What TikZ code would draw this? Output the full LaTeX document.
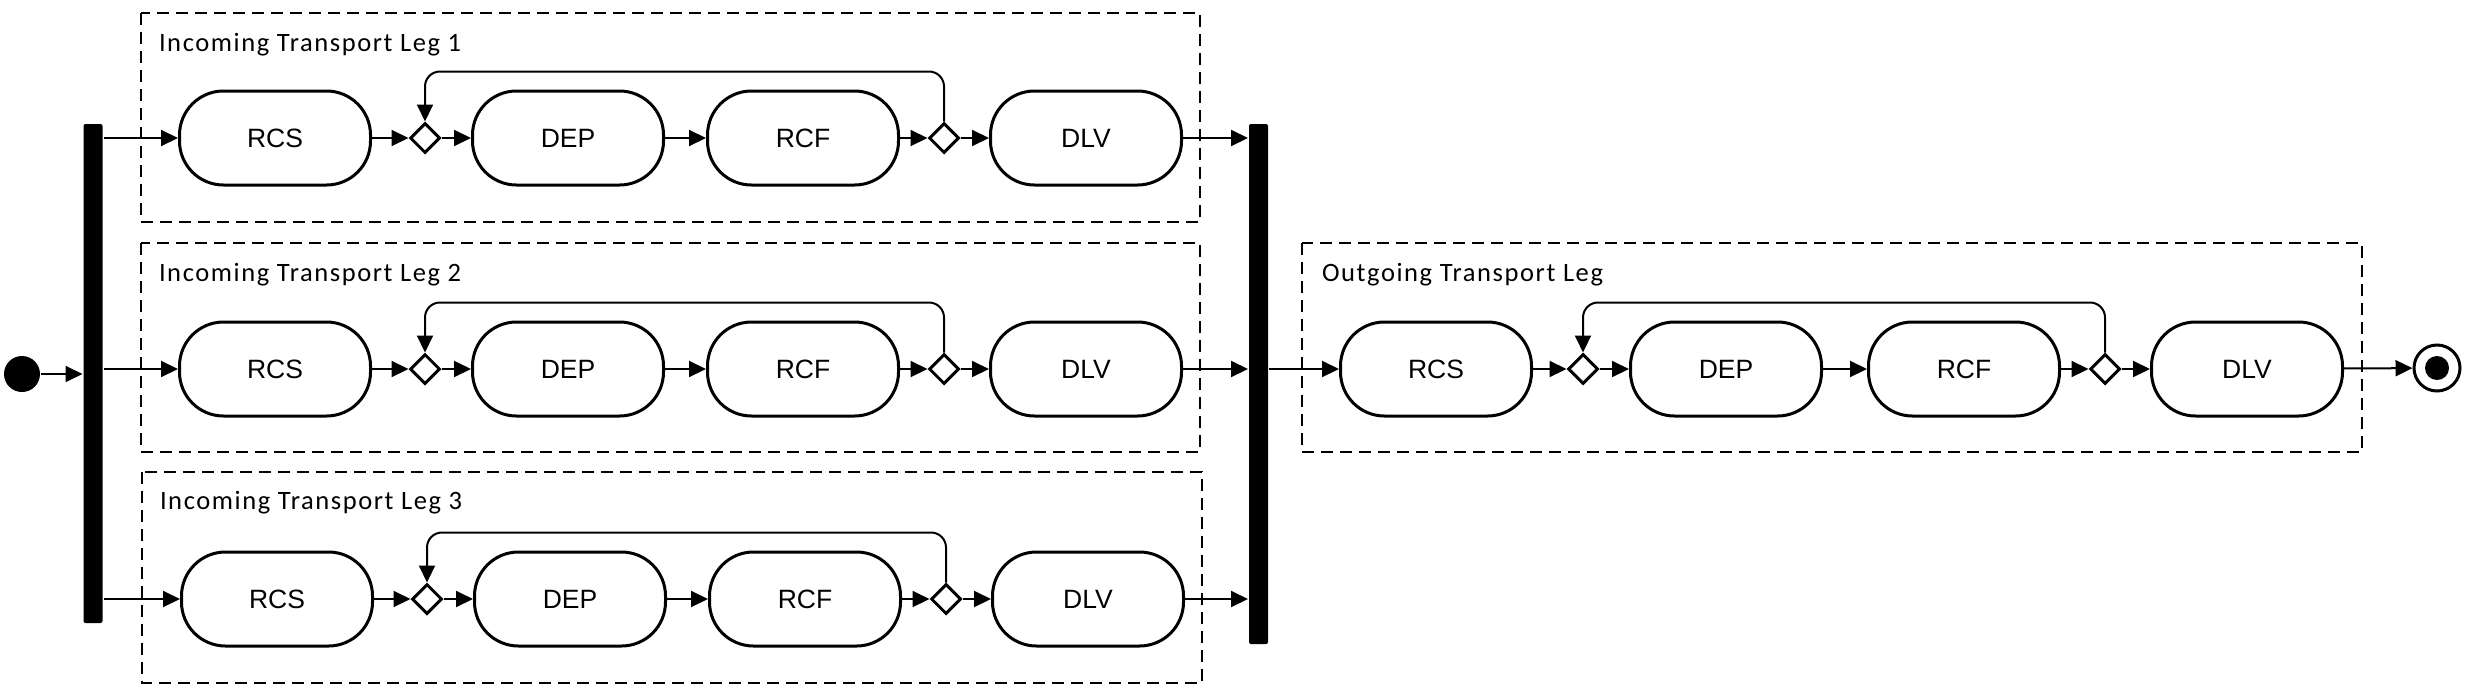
\documentclass[tikz,border=0pt]{standalone}
\usepackage{fontspec}
\setmainfont{Liberation Sans}
\newfontfamily\legfont[LetterSpace=6]{Carlito}
\usetikzlibrary{shapes.geometric,arrows.meta}

\begin{document}
\begin{tikzpicture}[x=1pt,y=-1pt,line width=2pt,>={Triangle[length=17pt,width=16pt]},
    anode/.style={draw,rectangle,rounded corners=44pt,line width=3pt,minimum width=191pt,minimum height=94pt,inner sep=0pt,font=\fontsize{26.5}{31}\selectfont},
    dnode/.style={draw,diamond,line width=3pt,minimum size=30pt,inner sep=0pt},
    bnode/.style={fill,rectangle,rounded corners=2pt,inner sep=0pt,minimum width=19pt},
    legbox/.style={draw,dash pattern=on 12pt off 7pt,line width=2.3pt},
    tnode/.style={anchor=base west,inner sep=0pt,font=\legfont\fontsize{26.5}{31}\selectfont}]
    \useasboundingbox (0,0) rectangle (2468,694);

    % swimlane boxes
    \draw[legbox] (141,13) rectangle (1200,222);
    \node[tnode] (t1) at (158,51) {Incoming Transport Leg 1};
    \draw[legbox] (141,243) rectangle (1200,452);
    \node[tnode] (t2) at (158,281) {Incoming Transport Leg 2};
    \draw[legbox] (142,472) rectangle (1202,683);
    \node[tnode] (t3) at (159,509) {Incoming Transport Leg 3};
    \draw[legbox] (1302,243) rectangle (2362,452);
    \node[tnode] (t4) at (1321,281) {Outgoing Transport Leg};

    \node[fill,circle,minimum size=36pt,inner sep=0pt] (ini) at (22,374) {};
    \node[bnode,minimum height=499pt] (fork) at (93,373.5) {};
    \node[bnode,minimum height=520pt] (join) at (1258.5,384) {};
    \node[draw,circle,line width=3pt,minimum size=46pt,inner sep=0pt,
          path picture={\fill (path picture bounding box.center) circle (12pt);}] (fin) at (2437,368) {};

    \node[anode] (rcs1) at (275,138) {RCS};
    \node[dnode] (mg1) at (425,138) {};
    \node[anode] (dep1) at (568,138) {DEP};
    \node[anode] (rcf1) at (803,138) {RCF};
    \node[dnode] (dc1) at (944,138) {};
    \node[anode] (dlv1) at (1086,138) {DLV};

    \node[anode] (rcs2) at (275,369) {RCS};
    \node[dnode] (mg2) at (425,369) {};
    \node[anode] (dep2) at (568,369) {DEP};
    \node[anode] (rcf2) at (803,369) {RCF};
    \node[dnode] (dc2) at (944,369) {};
    \node[anode] (dlv2) at (1086,369) {DLV};

    \node[anode] (rcs3) at (277,599) {RCS};
    \node[dnode] (mg3) at (427,599) {};
    \node[anode] (dep3) at (570,599) {DEP};
    \node[anode] (rcf3) at (805,599) {RCF};
    \node[dnode] (dc3) at (946,599) {};
    \node[anode] (dlv3) at (1088,599) {DLV};

    \node[anode] (rcs4) at (1436,369) {RCS};
    \node[dnode] (mg4) at (1583,369) {};
    \node[anode] (dep4) at (1726,369) {DEP};
    \node[anode] (rcf4) at (1964,369) {RCF};
    \node[dnode] (dc4) at (2105,369) {};
    \node[anode] (dlv4) at (2247,369) {DLV};

    \draw[->] (ini) -- (ini -| fork.west);
    \draw[->] (fork.east |- rcs1) -- (rcs1);
    \draw[->] (fork.east |- rcs2) -- (rcs2);
    \draw[->] (fork.east |- rcs3) -- (rcs3);

    \draw[->] (rcs1) -- (mg1);
    \draw[->] (mg1) -- (dep1);
    \draw[->] (dep1) -- (rcf1);
    \draw[->] (rcf1) -- (dc1);
    \draw[->] (dc1) -- (dlv1);
    \draw[->,rounded corners=15pt] (dc1.north) -- ++(0,-50) -| (mg1.north);

    \draw[->] (rcs2) -- (mg2);
    \draw[->] (mg2) -- (dep2);
    \draw[->] (dep2) -- (rcf2);
    \draw[->] (rcf2) -- (dc2);
    \draw[->] (dc2) -- (dlv2);
    \draw[->,rounded corners=15pt] (dc2.north) -- ++(0,-50) -| (mg2.north);

    \draw[->] (rcs3) -- (mg3);
    \draw[->] (mg3) -- (dep3);
    \draw[->] (dep3) -- (rcf3);
    \draw[->] (rcf3) -- (dc3);
    \draw[->] (dc3) -- (dlv3);
    \draw[->,rounded corners=15pt] (dc3.north) -- ++(0,-50) -| (mg3.north);

    \draw[->] (dlv1) -- (dlv1 -| join.west);
    \draw[->] (dlv2) -- (dlv2 -| join.west);
    \draw[->] (dlv3) -- (dlv3 -| join.west);
    \draw[->] (join.east |- rcs4) -- (rcs4);

    \draw[->] (rcs4) -- (mg4);
    \draw[->] (mg4) -- (dep4);
    \draw[->] (dep4) -- (rcf4);
    \draw[->] (rcf4) -- (dc4);
    \draw[->] (dc4) -- (dlv4);
    \draw[->,rounded corners=15pt] (dc4.north) -- ++(0,-50) -| (mg4.north);
    \draw[->] (dlv4) -- (fin);
\end{tikzpicture}
\end{document}
